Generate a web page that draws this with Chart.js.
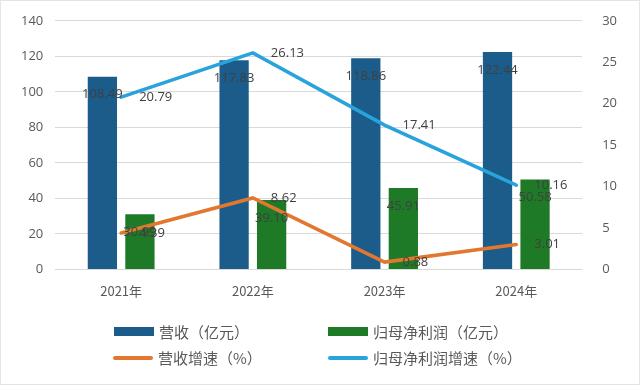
<!DOCTYPE html>
<html>
<head>
<meta charset="utf-8">
<script src="https://cdn.jsdelivr.net/npm/chart.js@4"></script>
<style>
  html, body { margin: 0; padding: 0; background: #fff; }
  #wrap { position: relative; width: 640px; height: 385px; box-sizing: border-box; border: 1px solid #e4e4e4; }
  #chart { position: absolute; left: 0; top: 0; }
  .lg { position: absolute; font-family: "Noto Sans CJK SC", sans-serif; font-size: 15px; color: #595959; line-height: 18px; white-space: nowrap; }
  .sw { position: absolute; }
</style>
</head>
<body>
<div id="wrap">
  <canvas id="chart" width="640" height="385"></canvas>
  <div id="legend"></div>
</div>
<script>
const years = ["2021年", "2022年", "2023年", "2024年"];
const revenue = [108.49, 117.83, 118.86, 122.44];
const netProfit = [30.99, 39.10, 45.91, 50.58];
const revenueGrowth = [4.39, 8.62, 0.88, 3.01];
const profitGrowth = [20.79, 26.13, 17.41, 10.16];
const leftTicks = [0, 20, 40, 60, 80, 100, 120, 140];
const rightTicks = [0, 5, 10, 15, 20, 25, 30];

const colors = {
  revenue: "#1b5c8b",
  profit: "#1f7a27",
  revGrowth: "#e2772f",
  profGrowth: "#28a3dc",
};

// value labels, Excel style: bars inside end, lines to the right
const valueLabels = {
  id: "valueLabels",
  afterDatasetsDraw(chart) {
    const ctx = chart.ctx;
    ctx.save();
    ctx.font = "13px 'Open Sans', 'Noto Sans CJK SC', sans-serif";
    ctx.fillStyle = "#404040";
    ctx.textBaseline = "middle";
    chart.data.datasets.forEach((ds, i) => {
      const meta = chart.getDatasetMeta(i);
      meta.data.forEach((el, j) => {
        const txt = ds.data[j].toFixed(2);
        if (ds.type === "bar") {
          ctx.textAlign = "center";
          ctx.fillText(txt, el.x, el.y + 18);
        } else {
          ctx.textAlign = "left";
          ctx.fillText(txt, el.x + 18, el.y);
        }
      });
    });
    ctx.restore();
  },
};

new Chart(document.getElementById("chart"), {
  data: {
    labels: years,
    datasets: [
      { type: "bar", label: "营收（亿元）", data: revenue, backgroundColor: colors.revenue, yAxisID: "y", order: 2, categoryPercentage: 0.57, barPercentage: 0.78 },
      { type: "bar", label: "归母净利润（亿元）", data: netProfit, backgroundColor: colors.profit, yAxisID: "y", order: 2, categoryPercentage: 0.57, barPercentage: 0.78 },
      { type: "line", label: "营收增速（%）", data: revenueGrowth, borderColor: colors.revGrowth, borderWidth: 3.5, pointRadius: 0, tension: 0, borderCapStyle: "round", yAxisID: "y1", order: 1 },
      { type: "line", label: "归母净利润增速（%）", data: profitGrowth, borderColor: colors.profGrowth, borderWidth: 3.5, pointRadius: 0, tension: 0, borderCapStyle: "round", yAxisID: "y1", order: 1 },
    ],
  },
  options: {
    responsive: false,
    animation: false,
    layout: { padding: { top: 14, left: 8, right: 12, bottom: 81 } },
    plugins: { legend: { display: false }, tooltip: { enabled: false } },
    scales: {
      x: {
        grid: { display: false },
        border: { display: false },
        ticks: { color: "#595959", font: { size: 13, family: "'Noto Sans CJK SC', sans-serif" }, padding: 6 },
      },
      y: {
        position: "left",
        min: 0,
        max: 140,
        afterBuildTicks: (axis) => { axis.ticks = leftTicks.map((v) => ({ value: v })); },
        grid: { color: "#d9d9d9", drawTicks: false },
        border: { display: false },
        ticks: { color: "#595959", font: { size: 13, family: "'Open Sans', sans-serif" }, padding: 12 },
      },
      y1: {
        position: "right",
        min: 0,
        max: 30,
        afterBuildTicks: (axis) => { axis.ticks = rightTicks.map((v) => ({ value: v })); },
        grid: { display: false },
        border: { display: false },
        ticks: { color: "#595959", font: { size: 13, family: "'Open Sans', sans-serif" }, padding: 12 },
      },
    },
  },
  plugins: [valueLabels],
});

// legend laid out in two columns like the original
const legendItems = [
  { text: "营收（亿元）", color: colors.revenue, kind: "box", x: 113, y: 322 },
  { text: "归母净利润（亿元）", color: colors.profit, kind: "box", x: 327, y: 322 },
  { text: "营收增速（%）", color: colors.revGrowth, kind: "line", x: 112, y: 348 },
  { text: "归母净利润增速（%）", color: colors.profGrowth, kind: "line", x: 327, y: 348 },
];
const legend = document.getElementById("legend");
legendItems.forEach((it) => {
  const sw = document.createElement("div");
  sw.className = "sw";
  sw.style.left = it.x + "px";
  sw.style.width = "40px";
  sw.style.background = it.color;
  if (it.kind === "box") {
    sw.style.top = it.y + 4 + "px";
    sw.style.height = "9px";
  } else {
    sw.style.top = it.y + 7 + "px";
    sw.style.height = "4px";
    sw.style.borderRadius = "2px";
  }
  legend.appendChild(sw);
  const t = document.createElement("div");
  t.className = "lg";
  t.style.left = it.x + 45 + "px";
  t.style.top = it.y + "px";
  t.textContent = it.text;
  legend.appendChild(t);
});
</script>
</body>
</html>
